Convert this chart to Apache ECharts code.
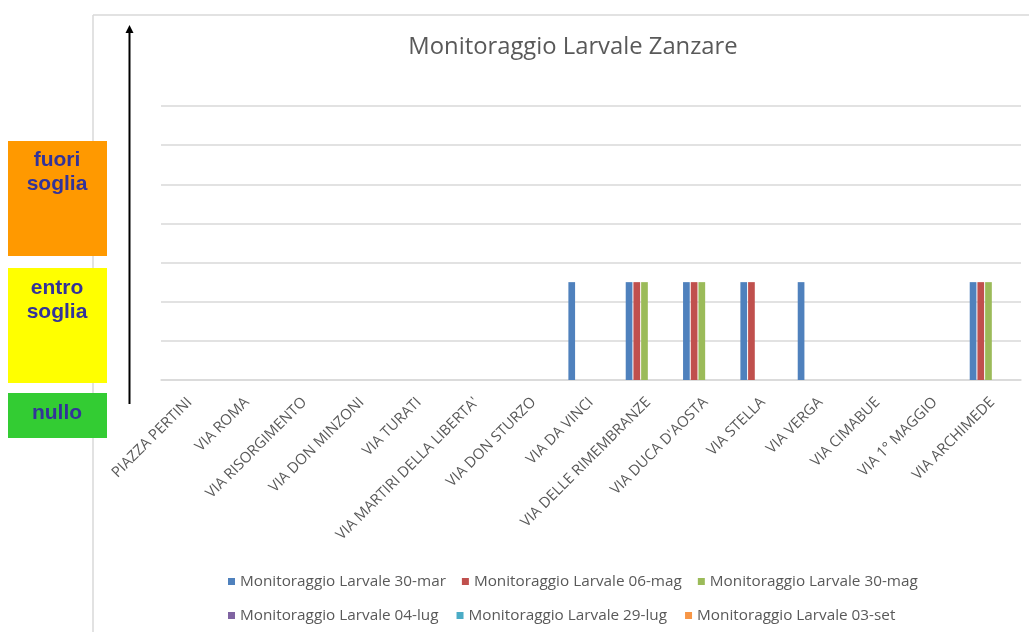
<!DOCTYPE html>
<html>
<head>
<meta charset="utf-8">
<script src="https://cdn.jsdelivr.net/npm/echarts@6/dist/echarts.min.js"></script>
<style>
html,body{margin:0;padding:0;background:#fff;}
#main{width:1029px;height:632px;}
</style>
</head>
<body>
<div id="main"></div>
<script>
const categories = ["PIAZZA PERTINI","VIA ROMA","VIA RISORGIMENTO","VIA DON MINZONI","VIA TURATI","VIA MARTIRI DELLA LIBERTA'","VIA DON STURZO","VIA DA VINCI","VIA DELLE RIMEMBRANZE","VIA DUCA D'AOSTA","VIA STELLA","VIA VERGA","VIA CIMABUE","VIA 1° MAGGIO","VIA ARCHIMEDE"];
const seriesNames = ["Monitoraggio Larvale 30-mar","Monitoraggio Larvale 06-mag","Monitoraggio Larvale 30-mag","Monitoraggio Larvale 04-lug","Monitoraggio Larvale 29-lug","Monitoraggio Larvale 03-set"];
const v30mar = [0,0,0,0,0,0,0,2.5,2.5,2.5,2.5,2.5,0,0,2.5];
const v06mag = [0,0,0,0,0,0,0,0,2.5,2.5,2.5,0,0,0,2.5];
const v30mag = [0,0,0,0,0,0,0,0,2.5,2.5,0,0,0,0,2.5];
const v04lug = [0,0,0,0,0,0,0,0,0,0,0,0,0,0,0];
const v29lug = [0,0,0,0,0,0,0,0,0,0,0,0,0,0,0];
const v03set = [0,0,0,0,0,0,0,0,0,0,0,0,0,0,0];
const seriesValues = [v30mar, v06mag, v30mag, v04lug, v29lug, v03set];
const colors = ["#4F81BD","#C0504D","#9BBB59","#8064A2","#4BACC6","#F79646"];

const chart = echarts.init(document.getElementById('main'));
const legendText = {color:'#595959', fontFamily:'Open Sans', fontSize:15.3};
const option = {
  animation:false,
  color: colors,
  title:{text:'Monitoraggio Larvale Zanzare', left:568, top:30, textAlign:'center',
    textStyle:{color:'#595959', fontFamily:'Open Sans', fontWeight:'normal', fontSize:23.8}},
  legend:[
    {data:seriesNames.slice(0,3), left:223, top:569, itemWidth:7, itemHeight:7, itemGap:16, icon:'rect', textStyle:legendText},
    {data:seriesNames.slice(3), left:223, top:603, itemWidth:7, itemHeight:7, itemGap:18, icon:'rect', textStyle:legendText}
  ],
  grid:{left:161, right:8, top:106, bottom:252, containLabel:false},
  xAxis:{type:'category', data:categories,
    axisLine:{lineStyle:{color:'#D9D9D9', width:1.5}},
    axisTick:{show:false},
    axisLabel:{interval:0, rotate:45, margin:20, color:'#595959', fontFamily:'Open Sans', fontSize:14.8}},
  yAxis:{type:'value', min:0, max:7, interval:1,
    axisLabel:{show:false}, axisLine:{show:false}, axisTick:{show:false},
    splitLine:{lineStyle:{color:'#D9D9D9', width:1.5}}},
  series: seriesNames.map((n,i)=>({name:n, type:'bar', data:seriesValues[i], barWidth:6.7, barGap:'15%',
    itemStyle:{color:colors[i]}})),
  graphic:[
    {type:'line', shape:{x1:93,y1:15,x2:1029,y2:15}, style:{stroke:'#D9D9D9', lineWidth:1.5}, silent:true},
    {type:'line', shape:{x1:93,y1:15,x2:93,y2:632}, style:{stroke:'#D9D9D9', lineWidth:1.5}, silent:true},
    {type:'rect', shape:{x:8,y:141,width:99,height:115}, style:{fill:'#FF9900'}},
    {type:'rect', shape:{x:8,y:268,width:99,height:115}, style:{fill:'#FFFF00'}},
    {type:'rect', shape:{x:8,y:393,width:99,height:45}, style:{fill:'#33CC33'}},
    {type:'text', x:57, y:148, style:{text:'fuori\nsoglia', textAlign:'center', textVerticalAlign:'top', fill:'#333399', font:'bold 21px "Liberation Sans"', lineHeight:24}},
    {type:'text', x:57, y:276, style:{text:'entro\nsoglia', textAlign:'center', textVerticalAlign:'top', fill:'#333399', font:'bold 21px "Liberation Sans"', lineHeight:24}},
    {type:'text', x:57, y:401, style:{text:'nullo', textAlign:'center', textVerticalAlign:'top', fill:'#333399', font:'bold 21px "Liberation Sans"', lineHeight:24}},
    {type:'line', shape:{x1:129.5,y1:404,x2:129.5,y2:31}, style:{stroke:'#000', lineWidth:2}},
    {type:'polygon', shape:{points:[[129.5,25],[125.5,33],[133.5,33]]}, style:{fill:'#000'}}
  ]
};
chart.setOption(option);
</script>
</body>
</html>
